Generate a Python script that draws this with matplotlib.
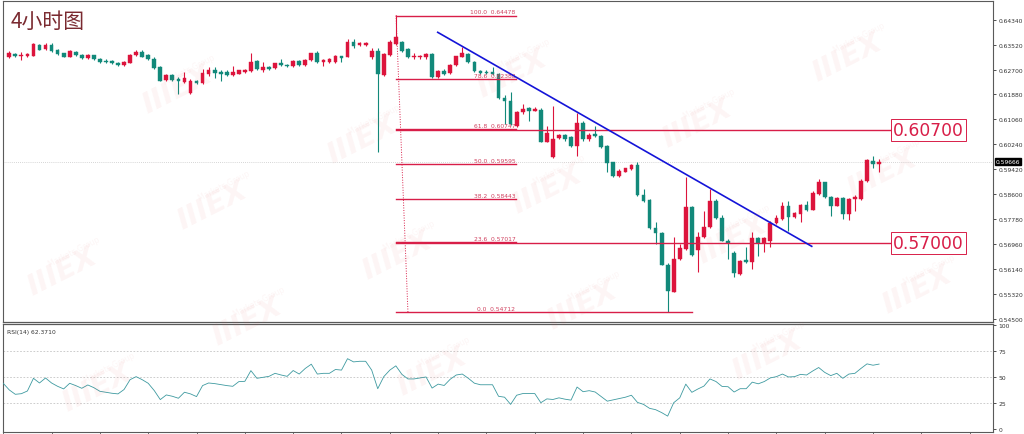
import numpy as np
import matplotlib
matplotlib.use("Agg")
import matplotlib.pyplot as plt
from matplotlib import font_manager
from matplotlib.transforms import blended_transform_factory

# ---------------- data ----------------
opens = [0.6312, 0.6321, 0.6314, 0.6314, 0.6316, 0.6351, 0.6338, 0.6352, 0.6334, 0.6323,
         0.6312, 0.6329, 0.6318, 0.6309, 0.6318, 0.6305, 0.6299, 0.6297, 0.6291, 0.6285,
         0.6291, 0.6318, 0.6329, 0.6318, 0.6305, 0.6277, 0.6235, 0.6251, 0.6238, 0.6230,
         0.6192, 0.6233, 0.6225, 0.6255, 0.6267, 0.6261, 0.6263, 0.6252, 0.6256, 0.6263,
         0.6266, 0.6297, 0.6269, 0.6279, 0.6274, 0.6292, 0.6286, 0.6281, 0.6297, 0.6285,
         0.6301, 0.6323, 0.6294, 0.6296, 0.6296, 0.6314, 0.6312, 0.6362, 0.6352, 0.6352,
         0.6310, 0.6332, 0.6252, 0.6318, 0.6354, 0.6360, 0.6338, 0.6310, 0.6310, 0.6310,
         0.6321, 0.6244, 0.6266, 0.6259, 0.6286, 0.6312, 0.6321, 0.6296, 0.6266, 0.6262,
         0.6261, 0.6255, 0.6176, 0.6167, 0.6085, 0.6129, 0.6142, 0.6134, 0.6138, 0.6032,
         0.5981, 0.6043, 0.6054, 0.6047, 0.6019, 0.6094, 0.6041, 0.6058, 0.6052, 0.6019,
         0.5964, 0.5918, 0.5934, 0.5942, 0.5956, 0.5857, 0.5840, 0.5747, 0.5732, 0.5627,
         0.5538, 0.5646, 0.5679, 0.5816, 0.5677, 0.5718, 0.5750, 0.5838, 0.5780, 0.5706,
         0.5666, 0.5597, 0.5644, 0.5637, 0.5715, 0.5699, 0.5706, 0.5765, 0.5778, 0.5820,
         0.5783, 0.5794, 0.5824, 0.5808, 0.5860, 0.5899, 0.5849, 0.5822, 0.5846, 0.5794,
         0.5844, 0.5844, 0.5904, 0.5970, 0.5959]
highs = [0.6331, 0.6326, 0.6327, 0.6326, 0.6357, 0.6354, 0.6356, 0.6356, 0.6338, 0.6326,
         0.6333, 0.6331, 0.6321, 0.6321, 0.6319, 0.6308, 0.6303, 0.6300, 0.6295, 0.6298,
         0.6321, 0.6333, 0.6333, 0.6321, 0.6310, 0.6280, 0.6255, 0.6254, 0.6245, 0.6261,
         0.6239, 0.6237, 0.6272, 0.6277, 0.6277, 0.6268, 0.6267, 0.6281, 0.6270, 0.6272,
         0.6323, 0.6300, 0.6296, 0.6283, 0.6293, 0.6303, 0.6289, 0.6300, 0.6300, 0.6305,
         0.6326, 0.6332, 0.6305, 0.6307, 0.6318, 0.6316, 0.6370, 0.6370, 0.6361, 0.6361,
         0.6340, 0.6340, 0.6326, 0.6367, 0.6448, 0.6364, 0.6341, 0.6324, 0.6319, 0.6324,
         0.6326, 0.6270, 0.6272, 0.6288, 0.6316, 0.6343, 0.6324, 0.6298, 0.6270, 0.6268,
         0.6277, 0.6259, 0.6186, 0.6197, 0.6132, 0.6156, 0.6145, 0.6145, 0.6142, 0.6084,
         0.6150, 0.6058, 0.6058, 0.6051, 0.6127, 0.6100, 0.6061, 0.6085, 0.6054, 0.6023,
         0.5967, 0.5941, 0.5947, 0.5959, 0.5964, 0.5877, 0.5844, 0.5767, 0.5735, 0.5633,
         0.5717, 0.5695, 0.5915, 0.5819, 0.5735, 0.5805, 0.5877, 0.5842, 0.5791, 0.5712,
         0.5673, 0.5644, 0.5685, 0.5734, 0.5718, 0.5718, 0.5771, 0.5791, 0.5833, 0.5838,
         0.5801, 0.5827, 0.5838, 0.5871, 0.5909, 0.5901, 0.5852, 0.5850, 0.5849, 0.5847,
         0.5857, 0.5908, 0.5975, 0.5986, 0.5975]
lows = [0.6308, 0.6310, 0.6302, 0.6310, 0.6313, 0.6333, 0.6334, 0.6329, 0.6318, 0.6310,
        0.6310, 0.6315, 0.6306, 0.6306, 0.6301, 0.6291, 0.6291, 0.6288, 0.6282, 0.6283,
        0.6290, 0.6315, 0.6310, 0.6301, 0.6272, 0.6231, 0.6232, 0.6232, 0.6189, 0.6227,
        0.6189, 0.6222, 0.6222, 0.6248, 0.6241, 0.6233, 0.6249, 0.6249, 0.6254, 0.6260,
        0.6263, 0.6268, 0.6263, 0.6268, 0.6272, 0.6282, 0.6277, 0.6278, 0.6282, 0.6282,
        0.6298, 0.6291, 0.6283, 0.6291, 0.6293, 0.6294, 0.6310, 0.6340, 0.6347, 0.6347,
        0.6305, 0.5998, 0.6249, 0.6315, 0.6351, 0.6328, 0.6308, 0.6305, 0.6303, 0.6306,
        0.6242, 0.6242, 0.6252, 0.6255, 0.6283, 0.6310, 0.6291, 0.6263, 0.6255, 0.6254,
        0.6252, 0.6173, 0.6091, 0.6087, 0.6082, 0.6125, 0.6101, 0.6132, 0.6030, 0.6030,
        0.5979, 0.6040, 0.6035, 0.6014, 0.5986, 0.6036, 0.6036, 0.6048, 0.6012, 0.5933,
        0.5916, 0.5916, 0.5931, 0.5939, 0.5853, 0.5835, 0.5745, 0.5695, 0.5625, 0.5471,
        0.5536, 0.5643, 0.5676, 0.5656, 0.5604, 0.5715, 0.5748, 0.5778, 0.5704, 0.5646,
        0.5586, 0.5593, 0.5634, 0.5613, 0.5657, 0.5668, 0.5685, 0.5761, 0.5774, 0.5739,
        0.5780, 0.5767, 0.5805, 0.5806, 0.5857, 0.5847, 0.5787, 0.5819, 0.5778, 0.5775,
        0.5805, 0.5840, 0.5901, 0.5945, 0.5932]
closes = [0.6323, 0.6314, 0.6318, 0.6321, 0.6354, 0.6335, 0.6352, 0.6332, 0.6321, 0.6312,
          0.6330, 0.6318, 0.6309, 0.6319, 0.6305, 0.6294, 0.6294, 0.6291, 0.6285, 0.6295,
          0.6319, 0.6329, 0.6312, 0.6305, 0.6274, 0.6233, 0.6252, 0.6234, 0.6232, 0.6243,
          0.6233, 0.6225, 0.6259, 0.6269, 0.6259, 0.6255, 0.6252, 0.6261, 0.6267, 0.6268,
          0.6296, 0.6272, 0.6279, 0.6272, 0.6290, 0.6285, 0.6281, 0.6297, 0.6285, 0.6302,
          0.6323, 0.6294, 0.6301, 0.6305, 0.6316, 0.6307, 0.6360, 0.6346, 0.6356, 0.6356,
          0.6332, 0.6255, 0.6321, 0.6360, 0.6376, 0.6332, 0.6310, 0.6316, 0.6316, 0.6321,
          0.6244, 0.6266, 0.6255, 0.6286, 0.6314, 0.6323, 0.6294, 0.6266, 0.6259, 0.6259,
          0.6255, 0.6175, 0.6165, 0.6091, 0.6129, 0.6140, 0.6134, 0.6140, 0.6032, 0.6061,
          0.6041, 0.6054, 0.6041, 0.6017, 0.6094, 0.6041, 0.6054, 0.6052, 0.6014, 0.5962,
          0.5918, 0.5937, 0.5945, 0.5956, 0.5857, 0.5838, 0.5747, 0.5732, 0.5627, 0.5542,
          0.5646, 0.5681, 0.5816, 0.5659, 0.5718, 0.5750, 0.5838, 0.5780, 0.5706, 0.5699,
          0.5600, 0.5640, 0.5637, 0.5715, 0.5699, 0.5715, 0.5765, 0.5780, 0.5822, 0.5783,
          0.5798, 0.5824, 0.5808, 0.5863, 0.5899, 0.5849, 0.5822, 0.5847, 0.5794, 0.5844,
          0.5849, 0.5904, 0.5972, 0.5959, 0.5967]

# RSI(14), first value belongs to the bar just before the first visible candle
rsi_values = [43.9,
              37.5, 33.3, 33.9, 36.5, 48.7, 44.2, 49.0, 44.2, 41.0, 38.5,
              43.9, 41.7, 39.1, 42.3, 39.7, 36.2, 35.3, 34.3, 33.7, 37.9,
              47.4, 50.3, 47.4, 43.9, 36.9, 28.2, 32.7, 31.4, 29.5, 35.3,
              33.7, 31.1, 41.7, 44.2, 43.6, 42.6, 41.7, 41.0, 45.5, 45.8,
              56.1, 48.7, 49.7, 50.6, 53.5, 51.9, 50.6, 56.2, 52.8, 58.2,
              62.3, 52.8, 53.5, 53.5, 57.2, 56.6, 67.6, 64.5, 65.1, 65.1,
              56.6, 38.7, 50.3, 56.6, 60.7, 52.5, 48.1, 48.1, 49.1, 50.0,
              39.3, 43.1, 41.8, 47.8, 51.9, 52.8, 48.7, 44.0, 42.5, 42.5,
              42.5, 31.4, 30.5, 23.6, 32.4, 34.0, 34.0, 34.0, 25.2, 28.9,
              28.3, 29.9, 28.6, 27.7, 40.3, 35.8, 36.8, 35.5, 31.1, 26.7,
              28.0, 29.2, 30.5, 32.4, 25.5, 23.6, 19.8, 18.5, 15.7, 12.3,
              25.2, 29.9, 43.1, 35.2, 38.4, 41.2, 48.1, 45.6, 40.9, 40.6,
              35.5, 38.7, 38.7, 45.0, 43.4, 45.6, 49.1, 50.3, 52.8, 50.0,
              50.3, 52.5, 51.9, 55.7, 59.1, 54.4, 51.3, 53.5, 48.7, 52.8,
              53.5, 58.2, 62.6, 61.3, 62.4]
rsi_label = "RSI(14) 62.3710"

fib_high = 0.64478
fib_low = 0.54712
fib_levels = [100.0, 78.6, 61.8, 50.0, 38.2, 23.6, 0.0]
key_levels = [0.60700, 0.57000]
last_price = 0.59666
trend_start = (70.93, 0.63925)
trend_end = (132.85, 0.56878)

price_ticks = [0.64340, 0.63520, 0.62700, 0.61880, 0.61060, 0.60240, 0.59420,
               0.58600, 0.57780, 0.56960, 0.56140, 0.55320, 0.54500]
rsi_ticks = [0, 25, 50, 75, 100]
rsi_dotted = [25, 50, 75]
title = "4小时图"

# ---------------- styling ----------------
UP = "#dc143c"
DOWN = "#12897a"
FIB = "#d81e48"
W, H = 1024, 435

names = {f.name for f in font_manager.fontManager.ttflist}
if "Liberation Sans Narrow" in names:
    box_font, box_size = ["Liberation Sans Narrow", "DejaVu Sans"], 16.0
else:
    box_font, box_size = ["DejaVu Sans"], 12.3

fig = plt.figure(figsize=(W / 100, H / 100), dpi=100)
fig.patch.set_facecolor("white")

def fx(px):
    return px / W

def fy(py):
    return 1 - py / H

ax = fig.add_axes([fx(3), fy(323), fx(990), 321 / H])
axr = fig.add_axes([fx(3), 2 / H, fx(990), 122.5 / H - 14.5 / H])

xlim = (-1.04, 162.86)
n = len(closes)
idx = np.arange(n)
o = np.array(opens); h = np.array(highs); l = np.array(lows); c = np.array(closes)
up = c >= o
cols = np.where(up, UP, DOWN)

# faint tiled watermarks (only the ones that fit inside the picture)
a_vec = np.array([150, -66]); b_vec = np.array([185, 50]); org = np.array([547, 190])
for m in range(-6, 7):
    for k in range(-6, 7):
        p = org + m * a_vec + k * b_vec
        if 55 < p[0] < 950 and 30 < p[1] < 400:
            fig.text(fx(p[0]), fy(p[1]), "IIIEX", fontsize=21, fontweight="heavy",
                     fontstyle="italic", color="#e05a5a", alpha=0.06, rotation=27,
                     ha="center", va="center", zorder=5)
            fig.text(fx(p[0] + 12), fy(p[1] - 20), "Markets Group", fontsize=5.5,
                     color="#e05a5a", alpha=0.06, rotation=27, ha="center", va="center",
                     zorder=5)

# candles
ax.vlines(idx, l, h, colors=cols, linewidth=0.8, zorder=3)
body_bottom = np.minimum(o, c)
body_height = np.maximum(np.abs(c - o), 0.00008)
ax.bar(idx, body_height, bottom=body_bottom, width=0.62, color=cols, edgecolor=cols,
       linewidth=0.3, zorder=4)

ax.set_xlim(*xlim)
ax.set_ylim(0.54386, 0.64956)

# current price line
ax.axhline(last_price, color="#c8c8c8", linewidth=0.6, linestyle=(0, (1, 1.5)), zorder=1)

# fibonacci
fib_x0 = 64.03
fib_x1 = 83.9
fib_x0_end = 113.0
rng = fib_high - fib_low
for lvl in fib_levels:
    price = fib_low + rng * lvl / 100.0
    x_end = fib_x0_end if lvl == 0.0 else fib_x1
    ax.plot([fib_x0, x_end], [price, price], color=FIB, linewidth=1.0, zorder=5)
    ax.text(fib_x1 - 0.1, price + 0.0004, f"{lvl:.1f}  {price:.5f}", fontsize=4.3,
            color="#d0405e", ha="right", va="bottom", zorder=6)
ax.plot([fib_x0, 66.0], [fib_high, fib_low], color=FIB, linewidth=0.7,
        linestyle=(0, (1, 1.6)), zorder=5)

# key horizontal levels with boxes
box_x = 146.3
for lv in key_levels:
    ax.plot([fib_x0, box_x], [lv, lv], color=FIB, linewidth=1.0, zorder=5)
    ax.text(box_x, lv, f"{lv:.5f}", fontsize=box_size, family=box_font, color=FIB,
            ha="left", va="center", zorder=7,
            bbox=dict(boxstyle="square,pad=0.12", facecolor="white", edgecolor=FIB,
                      linewidth=0.7))

# trend line
ax.plot([trend_start[0], trend_end[0]], [trend_start[1], trend_end[1]], color="#1414d8",
        linewidth=1.2, zorder=6)

# axes cosmetics
for a in (ax, axr):
    for s in a.spines.values():
        s.set_color("#5a5a5a")
        s.set_linewidth(0.8)
ax.spines["bottom"].set_linewidth(0.9)
axr.spines["top"].set_linewidth(0.9)

ax.set_xticks([])
ax.yaxis.tick_right()
ax.set_yticks(price_ticks)
ax.set_yticklabels([f"{t:.5f}" for t in price_ticks])
ax.tick_params(axis="y", direction="out", length=2.5, width=0.6, pad=1.5,
               labelsize=4.3, colors="#333333")

# last price label
trans = blended_transform_factory(ax.transAxes, ax.transData)
ax.text(1.0025, last_price, f"{last_price:.5f}", transform=trans, fontsize=4.3,
        color="white", ha="left", va="center", zorder=10, clip_on=False,
        bbox=dict(boxstyle="square,pad=0.15", facecolor="black", edgecolor="black"))

# RSI panel
rsi_x = np.arange(-1, n)
axr.plot(rsi_x, rsi_values, color="#3e9aa0", linewidth=0.6, zorder=3)
for lv in rsi_dotted:
    axr.axhline(lv, color="#c4c4c4", linewidth=0.6, linestyle=(0, (2, 2)), zorder=1)
axr.set_xlim(*xlim)
axr.set_ylim(-3, 101)
axr.yaxis.tick_right()
axr.set_yticks(rsi_ticks)
axr.set_yticklabels([str(t) for t in rsi_ticks])
axr.tick_params(axis="y", direction="out", length=2.5, width=0.6, pad=1.5,
                labelsize=4.3, colors="#333333")
axr.set_xticks(np.arange(-1, 163, 8))
axr.set_xticklabels([])
axr.tick_params(axis="x", direction="out", length=3, width=0.6, colors="#555555")
axr.text(0.004, 0.93, rsi_label, transform=axr.transAxes, fontsize=4.3, color="#333333",
         ha="left", va="center")

# title
fig.text(fx(11), fy(22), title, fontsize=15, color="#7a2a30", ha="left", va="center",
         family=["Noto Sans CJK SC", "DejaVu Sans"])

fig.savefig("out.png", dpi=100, facecolor="white")
